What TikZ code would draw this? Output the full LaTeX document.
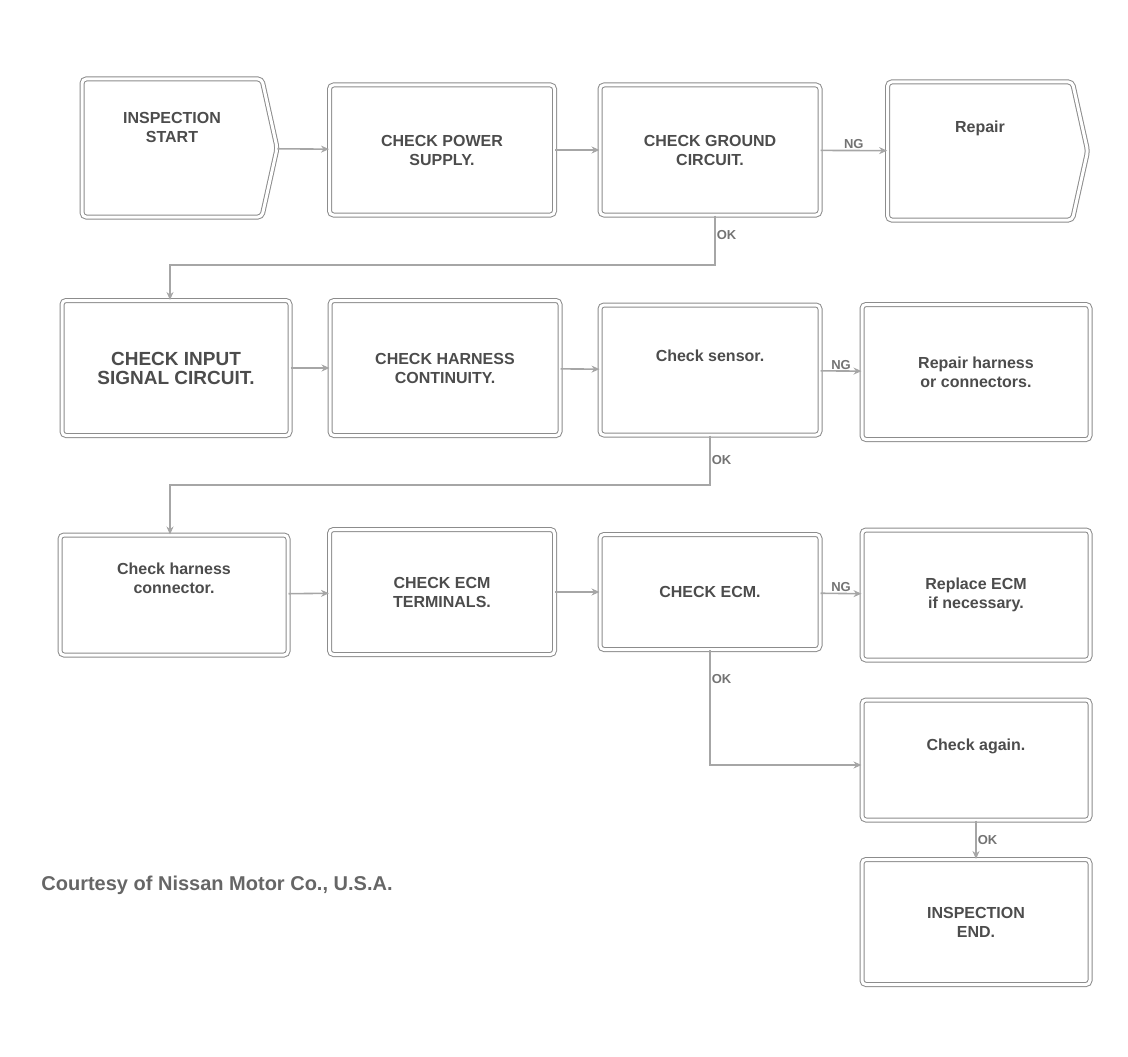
\documentclass[tikz,border=0pt]{standalone}
\usepackage{fontspec}
\setmainfont{Liberation Sans}
\usetikzlibrary{shapes.symbols,arrows.meta}
\begin{document}
\begin{tikzpicture}[x=1pt,y=-1pt,
  box/.style={draw=black!45,double=white,double distance=3pt,line width=1pt,rounded corners=4pt,
    inner sep=6pt,align=center,font=\fontsize{16}{19}\selectfont\bfseries,text=black!70},
  sig/.style={box,shape=signal,signal to=east,signal pointer angle=155},
  conn/.style={draw=black!35,line width=1.6pt,-{Stealth[length=8pt,width=7pt]}},
  lab/.style={font=\fontsize{13}{15}\selectfont\bfseries,text=black!55,inner sep=1pt}]
\useasboundingbox (0,0) rectangle (1128,1057);
% row 1
\node[sig,minimum width=195,minimum height=138] (A) at (172,148) {INSPECTION\\START\\[22pt]~};
\node[box,minimum width=225,minimum height=130] (B) at (442,150) {CHECK POWER\\SUPPLY.};
\node[box,minimum width=220,minimum height=130] (C) at (710,150) {CHECK GROUND\\CIRCUIT.};
\node[sig,minimum width=200,minimum height=138] (D) at (980,151) {Repair\\[30pt]~};
% row 2
\node[box,minimum width=228,minimum height=135] (E) at (176,368) {\fontsize{19}{23}\selectfont CHECK INPUT\\\fontsize{19}{23}\selectfont SIGNAL CIRCUIT.};
\node[box,minimum width=230,minimum height=135] (F) at (445,368) {CHECK HARNESS\\CONTINUITY.};
\node[box,minimum width=220,minimum height=130] (G) at (710,370) {Check sensor.\\[10pt]~};
\node[box,minimum width=228,minimum height=135] (H) at (976,372) {Repair harness\\or connectors.};
% row 3
\node[box,minimum width=228,minimum height=120] (I) at (174,595) {Check harness\\connector.\\[14pt]~};
\node[box,minimum width=225,minimum height=125] (J) at (442,592) {CHECK ECM\\TERMINALS.};
\node[box,minimum width=220,minimum height=115] (K) at (710,592) {CHECK ECM.};
\node[box,minimum width=228,minimum height=130] (L) at (976,595) {Replace ECM\\if necessary.};
% column
\node[box,minimum width=228,minimum height=120] (M) at (976,760) {Check again.\\[12pt]~};
\node[box,minimum width=228,minimum height=125] (N) at (976,922) {INSPECTION\\END.};
\node[font=\fontsize{20}{24}\selectfont\bfseries,text=black!60] (cap) at (217,885) {Courtesy of Nissan Motor Co., U.S.A.};
% connectors
\draw[conn] (A) -- (B);
\draw[conn] (B) -- (C);
\draw[conn] (C) -- node[lab,above] {NG} (D);
\coordinate (c1) at (715,265);
\coordinate (c2) at (170,265);
\draw[conn] (C.south -| c1) -- node[lab,right,pos=0.4] {OK} (c1) -- (c2) -- (c2 |- E.north);
\draw[conn] (E) -- (F);
\draw[conn] (F) -- (G);
\draw[conn] (G) -- node[lab,above] {NG} (H);
\coordinate (g1) at (710,485);
\coordinate (g2) at (170,485);
\draw[conn] (G.south) -- node[lab,right] {OK} (g1) -- (g2) -- (g2 |- I.north);
\draw[conn] (I) -- (J);
\draw[conn] (J) -- (K);
\draw[conn] (K) -- node[lab,above] {NG} (L);
\coordinate (k1) at (710,765);
\draw[conn] (K.south) -- node[lab,right,pos=0.25] {OK} (k1) -- (k1 -| M.west);
\draw[conn] (M) -- node[lab,right] {OK} (N);
\end{tikzpicture}
\end{document}
